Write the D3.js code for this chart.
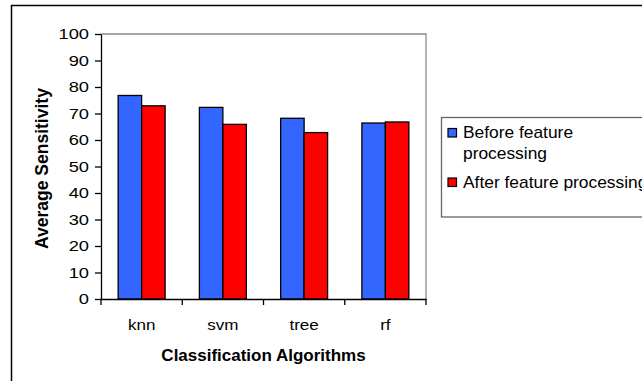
<!DOCTYPE html>
<html>
<head>
<meta charset="utf-8">
<script src="https://cdn.jsdelivr.net/npm/d3@7"></script>
<style>
  html, body { margin: 0; padding: 0; background: #fff; }
  svg { display: block; }
  text { font-family: "Liberation Sans", Arial, sans-serif; fill: #000; }
</style>
</head>
<body>
<svg id="chart" width="642" height="381"></svg>
<script>
// Average sensitivity per classifier, before and after feature processing
const categories = ["knn", "svm", "tree", "rf"];
const seriesNames = ["Before feature processing", "After feature processing"];
const beforeValues = [76.8, 72.3, 68.2, 66.4];
const afterValues = [72.9, 65.9, 62.8, 66.8];
const yTicks = [0, 10, 20, 30, 40, 50, 60, 70, 80, 90, 100];
const seriesColors = ["#3366FF", "#FF0000"];

const plot = { left: 101, right: 426, top: 34, bottom: 299 };

const svg = d3.select("#chart");

// outer chart frame (runs off the right and bottom edges)
svg.append("rect")
  .attr("x", 11.5).attr("y", 5.5)
  .attr("width", 700).attr("height", 400)
  .attr("fill", "#fff").attr("stroke", "#000").attr("stroke-width", 1.5);

const x = d3.scaleBand().domain(categories).range([plot.left, plot.right]).padding(0);
const xs = d3.scaleBand().domain(seriesNames).range([0, x.bandwidth()])
  .paddingInner(0).paddingOuter(0.73);
const y = d3.scaleLinear().domain([0, 100]).range([plot.bottom, plot.top]);

// plot-area top and right edges
svg.append("path")
  .attr("d", `M${plot.left},${plot.top}H${plot.right}V${plot.bottom}`)
  .attr("fill", "none").attr("stroke", "#8c8c8c").attr("stroke-width", 1.3);

// text helper with a slight horizontal stretch of the lettering
function label(g, str, px, py, opts) {
  const sx = opts.sx || 1.1;
  const t = g.append("text")
    .attr("transform", `translate(${px},${py}) scale(${sx},1)` + (opts.rotate ? ` rotate(${opts.rotate})` : ""))
    .attr("text-anchor", opts.anchor || "start")
    .attr("font-size", opts.size)
    .attr("font-weight", opts.bold ? "bold" : "normal")
    .text(str);
  if (opts.dy) t.attr("dy", opts.dy);
  return t;
}

// bars
const rows = categories.map((c, i) => ({ cat: c, vals: [beforeValues[i], afterValues[i]] }));
const groups = svg.append("g").selectAll("g").data(rows).join("g")
  .attr("transform", d => `translate(${x(d.cat)},0)`);
groups.selectAll("rect")
  .data(d => d.vals.map((v, k) => ({ name: seriesNames[k], v, k })))
  .join("rect")
  .attr("x", d => xs(d.name))
  .attr("y", d => y(d.v))
  .attr("width", xs.bandwidth())
  .attr("height", d => y(0) - y(d.v))
  .attr("fill", d => seriesColors[d.k])
  .attr("stroke", "#000").attr("stroke-width", 1.3);

// y axis
const yAxis = svg.append("g")
  .attr("transform", `translate(${plot.left},0)`)
  .call(d3.axisLeft(y).tickValues(yTicks).tickSize(6).tickSizeOuter(0).tickFormat(""));
yAxis.select(".domain").attr("stroke", "#000").attr("stroke-width", 1.3);
yAxis.selectAll(".tick line").attr("stroke", "#000").attr("stroke-width", 1.3);
yTicks.forEach(t => label(svg, String(t), 89, y(t), { anchor: "end", size: 15.5, sx: 1.18, dy: "0.35em" }));

// x axis: ticks sit on the category boundaries
const xAxis = svg.append("g")
  .attr("transform", `translate(0,${plot.bottom})`)
  .call(d3.axisBottom(x).tickSize(0).tickSizeOuter(0).tickFormat(""));
xAxis.select(".domain").attr("stroke", "#000").attr("stroke-width", 1.3);
xAxis.selectAll(".tick line").remove();
const bounds = categories.map(c => x(c)).concat([x.range()[1]]);
xAxis.selectAll("line.bound").data(bounds).join("line")
  .attr("class", "bound")
  .attr("x1", d => d).attr("x2", d => d)
  .attr("y1", 0).attr("y2", 6)
  .attr("stroke", "#000").attr("stroke-width", 1.3);
categories.forEach(c => label(svg, c, x(c) + x.bandwidth() / 2, 330, { anchor: "middle", size: 15.5 }));

// axis titles
label(svg, "Classification Algorithms", (plot.left + plot.right) / 2, 361, { anchor: "middle", size: 16.2, sx: 1.05, bold: true });
label(svg, "Average Sensitivity", 48, (plot.top + plot.bottom) / 2 + 2, { anchor: "middle", size: 17.5, sx: 1.05, bold: true, rotate: -90 });

// legend
const lg = svg.append("g");
lg.append("rect")
  .attr("x", 441.5).attr("y", 117.5)
  .attr("width", 260).attr("height", 99.5)
  .attr("fill", "#fff").attr("stroke", "#666").attr("stroke-width", 1.3);
const legendRows = [
  { lines: ["Before feature", "processing"], sq: 128.5 },
  { lines: ["After feature processing"], sq: 178 }
];
legendRows.forEach((r, i) => {
  lg.append("rect")
    .attr("x", 448).attr("y", r.sq).attr("width", 8.5).attr("height", 8.5)
    .attr("fill", seriesColors[i]).attr("stroke", "#000").attr("stroke-width", 1.2);
  r.lines.forEach((ln, j) => label(lg, ln, 463, r.sq + 9.5 + j * 21, { size: 15.8 }));
});
</script>
</body>
</html>
